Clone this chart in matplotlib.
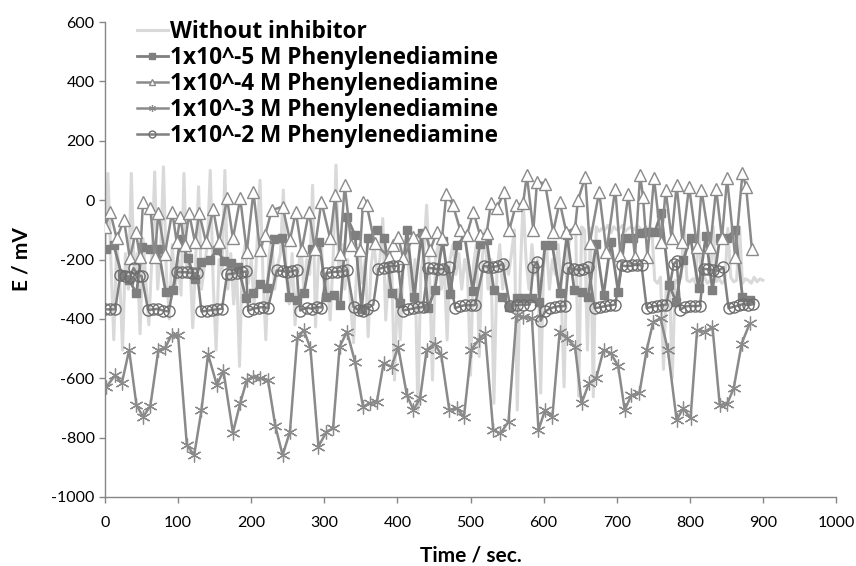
import numpy as np
import matplotlib
matplotlib.use("Agg")
import matplotlib.pyplot as plt

# ---------------- data ----------------
labels = ["Without inhibitor",
          "1x10^-5 M Phenylenediamine",
          "1x10^-4 M Phenylenediamine",
          "1x10^-3 M Phenylenediamine",
          "1x10^-2 M Phenylenediamine"]

# Without inhibitor (sampled every 4 s, 0..900)
t_blank = np.arange(0, 904, 4)
e_blank = [
    -150, 90, -200, -470, -150, -250, -505, -180, -300, 90,
    -250, -180, -450, -130, -280, -420, -200, 95, -300, -180,
    112, -250, -400, -150, -300, -200, -320, 90, -250, -180,
    -430, -200, 45, -300, -220, -150, 100, -280, -505, -200,
    -250, 100, -300, -180, -350, -220, -560, -200, -150, -280,
    -200, -350, -150, 67, -250, -470, -200, -120, -300, -220,
    -180, 34, -250, -350, -180, -420, -250, -150, -300, -200,
    -250, 50, -427, -200, -150, -300, -250, -404, -200, 118,
    -250, -150, -300, -200, -350, -480, -250, -150, -280, -200,
    -460, -220, -150, -250, -200, -62, -404, -250, -200, -606,
    -300, -470, -200, -150, -250, -350, -200, -707, -250, -180,
    -17, -250, -606, -200, -150, -300, -220, -471, -200, -150,
    -250, -180, -300, -200, -250, -590, -220, -150, -527, -200,
    -100, -300, -200, -684, -250, -150, -300, -200, -250, -180,
    -100, -707, -250, 0, -200, -300, -150, -250, -200, -650,
    -220, -150, -300, -200, -250, -150, -300, -629, -200, -120,
    -95, -110, -660, -90, -100, -505, -95, -662, -90, -105,
    -95, -100, -85, -110, -90, -100, -95, -85, -105, -95,
    -90, -100, -85, -95, -105, -90, -100, -95, -270, -280,
    -260, -570, -275, -265, -600, -270, -280, -260, -90, -270,
    -275, -265, -280, -95, -270, -260, -280, -270, -90, -275,
    -265, -280, -270, -95, -260, -275, -270, -90, -280, -265,
    -270, -280, -260, -275, -265, -270,
]

# 1x10^-5 M (squares)
t_5 = [2, 12, 23, 33, 43, 51, 61, 73, 83, 93, 103, 113, 123, 132, 143, 153, 163, 173, 182, 193,
       203, 212, 221, 231, 242, 252, 262, 272, 283, 293, 303, 313, 322, 331, 342, 351, 360, 372, 382, 392,
       403, 413, 423, 433, 442, 451, 462, 472, 482, 492, 503, 513, 522, 532, 543, 553, 563, 573, 584, 594,
       602, 612, 622, 632, 642, 652, 661, 672, 682, 692, 702, 711, 722, 732, 742, 752, 761, 772, 781, 791,
       801, 812, 822, 831, 841, 851, 862, 872, 882]
e_5 = [-166, -152, -253, -269, -314, -157, -166, -166, -309, -303, -132, -196, -264, -208, -202, -168, -204, -213, -224, -331,
       -314, -281, -297, -132, -126, -325, -337, -314, -166, -140, -325, -320, -354, -56, -118, -368, -129, -101, -126, -312,
       -346, -99, -325, -112, -365, -303, -137, -316, -152, -121, -305, -148, -135, -303, -325, -359, -331, -331, -331, -342,
       -152, -152, -314, -118, -303, -309, -325, -148, -320, -140, -309, -126, -126, -110, -107, -107, -43, -286, -342, -202,
       -126, -297, -121, -303, -129, -126, -101, -325, -335]

# 1x10^-4 M (triangles)
t_4 = [0, 7, 16, 26, 34, 42, 48, 52, 62, 68, 73, 82, 92, 98, 103, 109, 115, 123, 129, 138,
       148, 156, 167, 175, 185, 194, 203, 212, 219, 228, 243, 253, 261, 269, 279, 287, 296, 308, 315, 321,
       328, 337, 349, 353, 358, 369, 388, 394, 401, 408, 422, 438, 445, 454, 461, 467, 476, 486, 495, 504,
       513, 522, 528, 536, 546, 553, 562, 572, 577, 586, 591, 602, 613, 622, 631, 643, 647, 657, 663, 676,
       686, 698, 705, 716, 725, 732, 736, 742, 751, 761, 767, 775, 782, 790, 799, 810, 816, 828, 836, 844,
       851, 862, 872, 877, 885]
e_4 = [-90, -39, -129, -67, -196, -107, -191, -6, -28, -191, -45, -180, -39, -140, -56, -152, -45, -140, -45, -140,
       -31, -140, 6, -129, 6, -174, 28, -168, -118, -34, -22, -135, -39, -168, -39, -163, -6, -129, 17, -180,
       50, -152, -168, -6, -17, -146, -191, -152, -124, -196, -124, -107, -168, -107, -129, 22, -17, -101, -118, -39,
       -118, -112, -11, -28, 28, -101, -17, -11, 84, -101, 62, 56, -107, -6, -107, -95, 0, 78, -146, 28,
       -174, 39, -185, 22, -191, 84, 11, -191, 73, -140, 34, -129, 50, -140, 45, -157, 34, -157, 39, -129,
       73, -191, 90, 45, -166]

# 1x10^-3 M (stars)
t_3 = [2, 14, 23, 33, 43, 52, 62, 73, 82, 91, 100, 112, 122, 132, 141, 153, 162, 175, 185, 194,
       203, 212, 223, 233, 243, 253, 263, 272, 281, 292, 303, 312, 321, 331, 342, 353, 362, 372, 381, 392,
       401, 413, 422, 431, 440, 451, 460, 471, 481, 491, 501, 511, 520, 531, 541, 552, 563, 572, 584, 593,
       602, 612, 622, 632, 643, 652, 662, 672, 682, 692, 702, 711, 720, 731, 741, 750, 760, 770, 782, 791,
       801, 810, 821, 831, 841, 851, 860, 871, 882]
e_3 = [-629, -589, -617, -505, -690, -730, -694, -505, -499, -455, -455, -825, -859, -707, -519, -623, -575, -783, -684, -606,
       -595, -600, -606, -761, -859, -780, -466, -438, -499, -830, -780, -769, -494, -443, -544, -696, -684, -679, -550, -561,
       -494, -657, -707, -668, -505, -483, -522, -707, -701, -730, -505, -471, -449, -774, -786, -746, -387, -393, -398, -774,
       -707, -730, -443, -466, -494, -684, -617, -600, -505, -516, -559, -707, -657, -651, -505, -410, -398, -505, -741, -701,
       -735, -438, -443, -427, -690, -687, -634, -483, -415]

# 1x10^-2 M (circles)
t_2 = [0, 7, 14, 21, 27, 34, 39, 46, 50, 59, 66, 73, 79, 87, 98, 105, 112, 119, 126, 132,
       139, 146, 153, 160, 167, 173, 180, 187, 193, 196, 203, 210, 216, 223, 235, 243, 249, 256, 262, 267,
       276, 283, 290, 296, 303, 310, 317, 324, 331, 340, 347, 353, 358, 367, 374, 381, 388, 394, 401, 408,
       415, 422, 428, 435, 442, 449, 456, 462, 470, 479, 486, 493, 500, 506, 518, 524, 531, 537, 544, 554,
       563, 572, 581, 586, 591, 596, 602, 609, 616, 622, 629, 634, 641, 648, 654, 661, 670, 677, 684, 691,
       698, 707, 714, 721, 728, 734, 741, 748, 755, 762, 768, 778, 782, 787, 793, 800, 807, 814, 819, 825,
       832, 839, 846, 853, 860, 867, 873, 880, 887]
e_2 = [-368, -368, -368, -253, -255, -258, -229, -255, -255, -370, -368, -366, -372, -375, -243, -242, -243, -245, -247, -375,
       -373, -370, -368, -366, -250, -248, -246, -243, -240, -372, -366, -362, -360, -364, -237, -238, -243, -239, -235, -372,
       -362, -366, -360, -362, -245, -243, -241, -240, -236, -360, -370, -373, -366, -352, -232, -227, -224, -221, -222, -372,
       -368, -365, -361, -361, -228, -230, -233, -232, -226, -364, -357, -354, -354, -354, -222, -224, -225, -222, -215, -356,
       -354, -352, -352, -225, -208, -406, -375, -365, -359, -357, -357, -229, -232, -235, -232, -224, -364, -361, -357, -354,
       -352, -220, -223, -220, -217, -220, -364, -359, -356, -354, -352, -215, -205, -370, -359, -356, -357, -356, -231, -233,
       -235, -238, -226, -364, -359, -354, -350, -354, -350]

# ---------------- figure ----------------
plt.rcParams['font.family'] = ['Lato', 'DejaVu Sans']
plt.rcParams['axes.unicode_minus'] = False

fig = plt.figure(figsize=(8.56, 5.66), dpi=100)
ax = fig.add_axes([105/856, 1-497/566, 731/856, 475/566])

line_col = '#7f7f7f'
ax.plot(t_blank, e_blank, color='#d9d9d9', lw=2.2, label=labels[0], zorder=1)
ax.plot(t_5, e_5, color=line_col, lw=2.0, marker='s', ms=6, mfc='#7f7f7f', mec='#7f7f7f',
        label=labels[1], zorder=2)
ax.plot(t_4, e_4, color='#8a8a8a', lw=1.8, marker='^', ms=8, mfc='white', mec='#8a8a8a', mew=1.0,
        label=labels[2], zorder=3)
ax.plot(t_3, e_3, color='#8a8a8a', lw=1.8, marker=(6, 2, 0), ms=10, mec='#8a8a8a', mew=0.9,
        label=labels[3], zorder=4)
ax.plot(t_2, e_2, color='#808080', lw=1.8, marker='o', ms=8, mfc='none', mec='#6e6e6e', mew=1.0,
        label=labels[4], zorder=5)

ax.set_xlim(0, 1000)
ax.set_ylim(-1000, 600)
ax.set_xticks(np.arange(0, 1001, 100))
ax.set_yticks(np.arange(-1000, 601, 200))
ax.tick_params(axis='both', labelsize=11.5, length=4, color='#868686', width=1)
ax.tick_params(axis='x', pad=10)

for s in ['top', 'right']:
    ax.spines[s].set_visible(False)
for s in ['left', 'bottom']:
    ax.spines[s].set_color('#868686')
    ax.spines[s].set_linewidth(1.0)

ax.set_xlabel('Time / sec.', fontsize=15, fontweight='bold', labelpad=11)
ax.set_ylabel('E / mV', fontsize=15, fontweight='bold', labelpad=14)

leg = ax.legend(loc='upper left', bbox_to_anchor=(128/856, 1-11/566), bbox_transform=fig.transFigure,
                frameon=False, prop={'family': 'Open Sans', 'weight': 'bold', 'size': 16.3},
                handlelength=1.35, handletextpad=0.1, labelspacing=0.09, borderaxespad=0)
for h in leg.legend_handles:
    h.set_markersize(5)

fig.savefig('out.png', dpi=100)
